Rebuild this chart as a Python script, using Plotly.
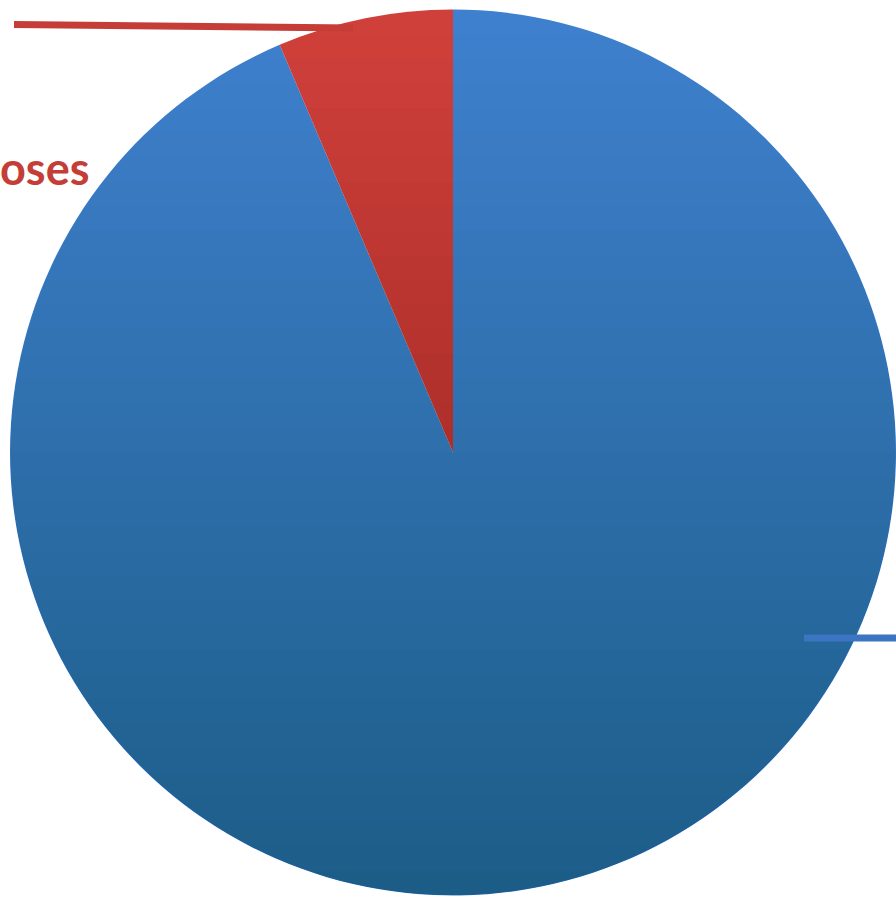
import math
import plotly.graph_objects as go

# ---- data ----
labels = ["Other", "Purposes"]
values = [93.6, 6.4]
slice_colors = ["#3f80ce", "#d0403b"]
label_text = "oses"

W, H = 896, 899
L, T = 10, 6  # left/top offset of pie domain (pixels)

fig = go.Figure(go.Pie(
    labels=labels, values=values, sort=False, direction="clockwise", rotation=0,
    marker=dict(colors=slice_colors, line=dict(width=0)),
    textinfo="none", hoverinfo="label+percent", showlegend=False,
    domain=dict(x=[L / W, 1], y=[0, 1 - T / H]),
))

# pie geometry in pixels (plotly centers pie in domain)
cx = (L + W) / 2
cy = (T + H) / 2
r = min(W - L, H - T) / 2

def px(x, y):
    return x / W, 1 - y / H

shapes = []
# vertical shading overlay (light at top, darker at bottom)
N = 36
alpha = 1 - (1 - 0.26) ** (1 / (N - 1))
for k in range(1, N):
    yk = cy - r + k * (2 * r / N)
    t0 = math.asin(max(-1, min(1, (yk - cy) / r)))
    pts = []
    M = 48
    for j in range(M + 1):
        t = t0 + (math.pi - 2 * t0) * j / M
        pts.append(px(cx + r * math.cos(t), cy + r * math.sin(t)))
    path = "M " + " L ".join(f"{a:.5f},{b:.5f}" for a, b in pts) + " Z"
    shapes.append(dict(type="path", xref="paper", yref="paper", path=path,
                       fillcolor=f"rgba(0,0,0,{alpha:.4f})", line=dict(width=0), layer="above"))

# leader lines
x0, y0 = px(14, 24.5); x1, y1 = px(353, 28)
shapes.append(dict(type="line", xref="paper", yref="paper", x0=x0, y0=y0, x1=x1, y1=y1,
                   line=dict(color="#c63c37", width=7)))
x0, y0 = px(804, 638); x1, y1 = px(900, 638)
shapes.append(dict(type="line", xref="paper", yref="paper", x0=x0, y0=y0, x1=x1, y1=y1,
                   line=dict(color="#3b75c2", width=7)))

ax, ay = px(-2, 168)
fig.update_layout(
    width=W, height=H, margin=dict(l=0, r=0, t=0, b=0),
    paper_bgcolor="white", plot_bgcolor="white",
    shapes=shapes,
    annotations=[dict(text=f"<b>{label_text}</b>", x=ax, y=ay, xref="paper", yref="paper",
                      xanchor="left", yanchor="middle", showarrow=False,
                      font=dict(family="Lato", size=45, color="#c43d37"))],
)
fig.write_html("out.html")
